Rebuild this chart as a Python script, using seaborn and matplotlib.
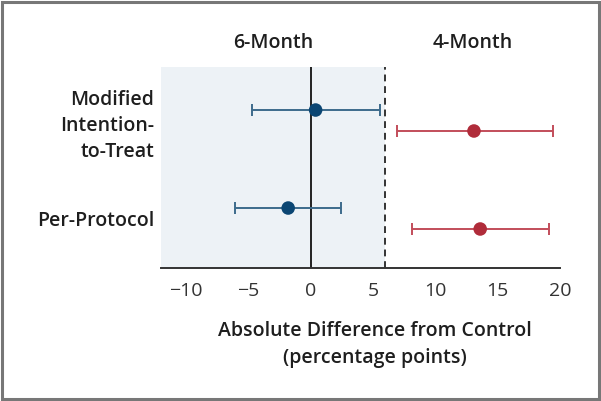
import numpy as np
import pandas as pd
import matplotlib
matplotlib.use("Agg")
from matplotlib import pyplot as plt
from matplotlib.patches import Rectangle
import seaborn as sns

# analyses and arms
analyses = ["Modified\nIntention-\nto-Treat", "Per-Protocol"]
arms = ["6-Month", "4-Month"]

# absolute difference from control (percentage points), with 95% CI
est_6m = [0.4, -1.8]
lo_6m = [-4.7, -6.1]
hi_6m = [5.6, 2.4]
est_4m = [13.1, 13.6]
lo_4m = [6.9, 8.1]
hi_4m = [19.4, 19.1]

xticks = [-10, -5, 0, 5, 10, 15, 20]
margin = 6

blue_pt, blue_ln = "#0b4673", "#3d6b8c"
red_pt, red_ln = "#b02c3a", "#c24d5a"

rows = []
for i, a in enumerate(analyses):
    rows.append(dict(analysis=a, arm=arms[0], y=i - 0.107, est=est_6m[i], lo=lo_6m[i], hi=hi_6m[i]))
    rows.append(dict(analysis=a, arm=arms[1], y=i + 0.107, est=est_4m[i], lo=lo_4m[i], hi=hi_4m[i]))
df = pd.DataFrame(rows)

sns.set_style("white")
plt.rcParams["font.family"] = ["Open Sans", "DejaVu Sans"]
fs = 14

fig = plt.figure(figsize=(6.01, 4.01), dpi=100)
ax = fig.add_axes([161 / 601, 1 - 268 / 401, 399 / 601, 201 / 401])

ax.axvspan(-12, margin, color="#edf2f6", zorder=0, lw=0)
ax.axvline(0, color="#222222", lw=1.4, zorder=1)
ax.axvline(margin, color="#333333", lw=1.4, ls=(0, (3.5, 2.5)), zorder=1)

colors = {arms[0]: (blue_pt, blue_ln), arms[1]: (red_pt, red_ln)}
for arm, sub in df.groupby("arm"):
    ax.errorbar(sub["est"], sub["y"],
                xerr=[sub["est"] - sub["lo"], sub["hi"] - sub["est"]],
                fmt="none", ecolor=colors[arm][1], elinewidth=1.4,
                capsize=4.5, capthick=1.4, zorder=2)

sns.scatterplot(data=df, x="est", y="y", hue="arm",
                palette={arms[0]: blue_pt, arms[1]: red_pt},
                s=95, edgecolor="none", legend=False, zorder=3, ax=ax)

ax.set_xlim(-12, 20)
ax.set_ylim(1.505, -0.546)
ax.set_xticks(xticks)
ax.set_xticklabels([str(t).replace("-", "\u2212") for t in xticks],
                   fontsize=fs, color="#333333")
ax.set_yticks(range(len(analyses)))
ax.set_yticklabels(analyses, fontsize=fs, fontweight="semibold",
                   color="#1e1e1e", linespacing=1.4)
ax.tick_params(axis="x", direction="out", length=6, width=1.3, color="#333333", pad=4)
ax.tick_params(axis="y", length=0, pad=5)
for s in ["top", "right", "left"]:
    ax.spines[s].set_visible(False)
ax.spines["bottom"].set_linewidth(1.4)
ax.spines["bottom"].set_color("#333333")

ax.set_xlabel("Absolute Difference from Control\n(percentage points)",
              fontsize=fs, fontweight="semibold", color="#1e1e1e",
              labelpad=15, linespacing=1.5, x=0.537)
ax.set_ylabel("")

ax.text((-12 + margin) / 2, -0.79, arms[0], ha="center", va="center",
        fontsize=fs, fontweight="semibold", color="#1e1e1e")
ax.text((margin + 20) / 2, -0.79, arms[1], ha="center", va="center",
        fontsize=fs, fontweight="semibold", color="#1e1e1e")

fig.patches.append(Rectangle((0.004, 0.005), 0.992, 0.99, transform=fig.transFigure,
                             fill=False, edgecolor="#777777", lw=2.2))

fig.savefig("out.png", dpi=100)
